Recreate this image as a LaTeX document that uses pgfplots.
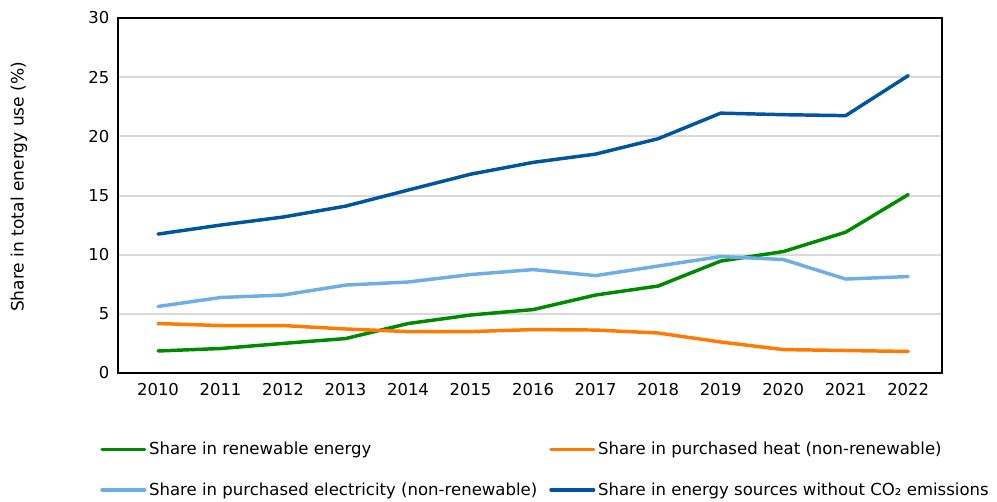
\documentclass[border=0pt]{standalone}
\usepackage{fontspec}
\setmainfont{DejaVu Sans}
\usepackage{pgfplots}
\pgfplotsset{compat=1.18}
\definecolor{cgreen}{RGB}{0,138,0}
\definecolor{corange}{RGB}{255,122,0}
\definecolor{clight}{RGB}{110,174,230}
\definecolor{cdark}{RGB}{0,85,160}
\definecolor{cgrid}{RGB}{217,217,217}
\begin{document}
\begin{tikzpicture}
\path[use as bounding box] (0,0) rectangle (747.75pt,375.75pt);
\begin{axis}[
  at={(88.5pt,96pt)}, anchor=south west,
  scale only axis, width=618pt, height=266.25pt,
  xmin=2009.36, xmax=2022.54, ymin=0, ymax=30,
  xtick={2010,...,2022}, ytick={0,5,...,30},
  x tick label style={/pgf/number format/1000 sep={}},
  /pgf/number format/assume math mode=true,
  tick style={draw=none},
  tick label style={font=\fontsize{12.3}{14}\selectfont},
  xticklabel style={yshift=-4pt},
  yticklabel style={xshift=-3pt},
  ymajorgrids, grid style={cgrid, line width=1.5pt},
  axis line style={line width=1.5pt, black},
  ylabel={Share in total energy use (\%)},
  ylabel style={font=\fontsize{12.8}{14}\selectfont, yshift=39pt, xshift=6.5pt},
  legend columns=2,
  legend cell align=left,
  legend image code/.code={\draw[#1, line width=2.6pt] (0pt,0pt) -- (32pt,0pt);},
  legend style={draw=none, fill=none, font=\fontsize{12.4}{14}\selectfont,
    at={(-0.0218,-0.1785)}, anchor=north west,
    row sep=15.5pt, inner xsep=0pt,
    nodes={inner xsep=2pt},
    /tikz/every even column/.append style={column sep=7pt}},
  every axis plot/.append style={line width=2.6pt, line join=round, line cap=round},
]
\addplot[cgreen] coordinates {(2010,1.86)(2011,2.07)(2012,2.5)(2013,2.91)(2014,4.18)(2015,4.9)(2016,5.36)(2017,6.59)(2018,7.35)(2019,9.46)(2020,10.26)(2021,11.9)(2022,15.08)};
\addlegendentry{Share in renewable energy}
\addplot[corange] coordinates {(2010,4.18)(2011,4.01)(2012,4.01)(2013,3.72)(2014,3.5)(2015,3.5)(2016,3.67)(2017,3.63)(2018,3.38)(2019,2.62)(2020,1.98)(2021,1.90)(2022,1.82)};
\addlegendentry{Share in purchased heat (non-renewable)}
\addplot[clight] coordinates {(2010,5.62)(2011,6.38)(2012,6.59)(2013,7.43)(2014,7.69)(2015,8.32)(2016,8.74)(2017,8.23)(2018,9.04)(2019,9.84)(2020,9.59)(2021,7.94)(2022,8.15)};
\addlegendentry{Share in purchased electricity (non-renewable)}
\addplot[cdark] coordinates {(2010,11.74)(2011,12.5)(2012,13.18)(2013,14.1)(2014,15.46)(2015,16.8)(2016,17.8)(2017,18.5)(2018,19.8)(2019,21.96)(2020,21.83)(2021,21.75)(2022,25.13)};
\addlegendentry{Share in energy sources without CO₂ emissions}
\end{axis}
\end{tikzpicture}
\end{document}
